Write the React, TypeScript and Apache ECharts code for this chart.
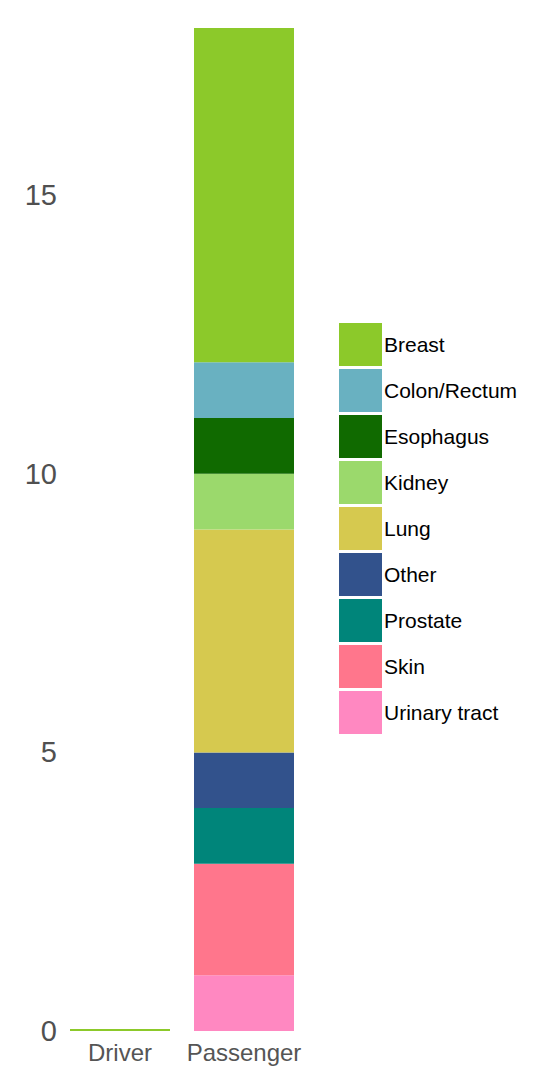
import React, { useEffect, useRef } from "react";
import * as echarts from "echarts";

const categories = ["Driver", "Passenger"];
const cancerTypes = ["Breast", "Colon/Rectum", "Esophagus", "Kidney", "Lung", "Other", "Prostate", "Skin", "Urinary tract"];
const breast = [0, 6];
const colonRectum = [0, 1];
const esophagus = [0, 1];
const kidney = [0, 1];
const lung = [0, 4];
const other = [0, 1];
const prostate = [0, 1];
const skin = [0, 2];
const urinaryTract = [0, 1];
const colors = ["#8cc92a", "#69b1c1", "#106a00", "#9bd96c", "#d6c94f", "#32528c", "#00857a", "#ff768c", "#ff88c1"];

const valuesByType: Record<string, number[]> = {
  "Breast": breast,
  "Colon/Rectum": colonRectum,
  "Esophagus": esophagus,
  "Kidney": kidney,
  "Lung": lung,
  "Other": other,
  "Prostate": prostate,
  "Skin": skin,
  "Urinary tract": urinaryTract,
};

export default function App() {
  const ref = useRef<HTMLDivElement>(null);
  useEffect(() => {
    document.body.style.margin = "0";
    const chart = echarts.init(ref.current!, null, { renderer: "svg" });
    const stackOrder = [...cancerTypes].reverse();
    const series = stackOrder.map((name) => ({
      name,
      type: "bar",
      stack: "total",
      data: valuesByType[name],
      barWidth: 100,
      clip: false,
      barMinHeight: name === "Breast" ? 2 : 0,
      itemStyle: { color: colors[cancerTypes.indexOf(name)] },
    }));
    chart.setOption({
      animation: false,
      textStyle: { fontFamily: "Liberation Sans, Arial, sans-serif" },
      legend: {
        data: cancerTypes,
        orient: "vertical",
        left: 339,
        top: 323,
        itemWidth: 43,
        itemHeight: 43,
        itemGap: 3,
        icon: "rect",
        padding: 0,
        textStyle: { fontSize: 21, color: "#000", padding: [0, 0, 0, -3] },
      },
      grid: { left: 58, top: 28, width: 248, bottom: 52, containLabel: false },
      xAxis: {
        type: "category",
        data: categories,
        axisLine: { show: false },
        axisTick: { show: false },
        axisLabel: { fontSize: 24, color: "#555", margin: 9, interval: 0 },
      },
      yAxis: {
        type: "value",
        min: 0,
        max: 18,
        interval: 5,
        splitLine: { show: false },
        axisLine: { show: false },
        axisTick: { show: false },
        axisLabel: {
          fontSize: 29,
          color: "#505050",
          margin: 1,
          showMaxLabel: false,
          formatter: (v: number) => (v % 5 === 0 ? String(v) : ""),
        },
      },
      series,
    });
    return () => chart.dispose();
  }, []);
  return <div ref={ref} style={{ width: 534, height: 1083, position: "absolute", left: 0, top: 0 }} />;
}
